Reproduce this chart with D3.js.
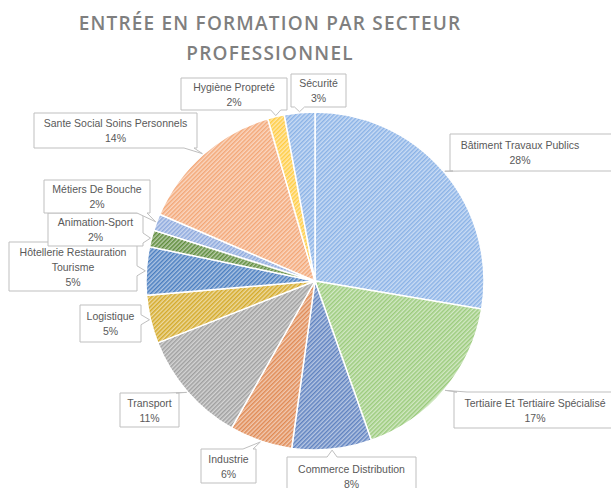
<!DOCTYPE html>
<html>
<head>
<meta charset="utf-8">
<script src="https://cdn.jsdelivr.net/npm/d3@7"></script>
<style>
  body { margin: 0; background: #fff; }
</style>
</head>
<body>
<div class="canvas"></div>
<script>
// data, clockwise from 12 o'clock
const sectors = ['Bâtiment Travaux Publics', 'Tertiaire Et Tertiaire Spécialisé', 'Commerce Distribution',
  'Industrie', 'Transport', 'Logistique', 'Hôtellerie Restauration Tourisme', 'Animation-Sport',
  'Métiers De Bouche', 'Sante Social Soins Personnels', 'Hygiène Propreté', 'Sécurité'];
const shares = [27.6, 16.9, 7.6, 6.0, 10.8, 4.6, 4.6, 1.6, 1.6, 14.0, 1.6, 2.9];
const colors = ['#8ab2e6', '#9bcb7c', '#5f82c0', '#e08a54', '#a0a0a0', '#d4aa2a',
  '#4a7ec0', '#5e8c3c', '#8da9dd', '#f3a777', '#ffcc44', '#8ab2e6'];

// label text lines (how the callouts wrap)
const labelLines = [['Bâtiment Travaux Publics'], ['Tertiaire Et Tertiaire Spécialisé'], ['Commerce Distribution'],
  ['Industrie'], ['Transport'], ['Logistique'], ['Hôtellerie Restauration', 'Tourisme'], ['Animation-Sport'],
  ['Métiers De Bouche'], ['Sante Social Soins Personnels'], ['Hygiène Propreté'], ['Sécurité']];

// callout boxes [x0, y0, x1, y1, text centre x (optional)]
const boxes = [[450, 134, 615, 171, 520], [454, 392, 615, 428, 535], [287, 457, 416, 495],
  [201, 449, 256, 483], [120, 393, 179, 427], [80, 305, 141, 342],
  [9, 242, 137, 291], [48, 213, 143, 246], [44, 180, 150, 213],
  [34, 113, 197, 148], [181, 78, 287, 110], [291, 74, 346, 107]];

const width = 611, height = 488;
const cx = 315, cy = 281, radius = 169;

const svg = d3.select('.canvas')
  .append('svg')
    .attr('width', width)
    .attr('height', height)
    .style('font-family', '"Liberation Sans", Arial, sans-serif');

// fine hatch patterns
const defs = svg.append('defs');
colors.forEach((c, i) => {
  const p = defs.append('pattern')
    .attr('id', 'hatch' + i)
    .attr('width', 3).attr('height', 3)
    .attr('patternUnits', 'userSpaceOnUse')
    .attr('patternTransform', 'rotate(-45)');
  p.append('rect').attr('width', 3).attr('height', 3)
    .attr('fill', d3.interpolateRgb(c, '#fff')(0.55));
  p.append('rect').attr('width', 3).attr('height', 1.5).attr('fill', c);
});

// title
const title = svg.append('text')
  .attr('x', 270)
  .attr('text-anchor', 'middle')
  .attr('fill', '#7f7f7f')
  .style('font-family', '"Open Sans", sans-serif')
  .style('font-weight', 600)
  .style('font-size', '19px')
  .style('letter-spacing', '1.2px');
title.append('tspan').attr('x', 270).attr('y', 30).text('ENTRÉE EN FORMATION PAR SECTEUR');
title.append('tspan').attr('x', 270).attr('y', 60).text('PROFESSIONNEL');

const total = d3.sum(shares);
const data = sectors.map((s, i) => ({name: s, value: shares[i], i}));

const pie = d3.pie().sort(null).value(d => d.value);
const arc = d3.arc().innerRadius(0).outerRadius(radius);
const arcs = pie(data);

const graph = svg.append('g').attr('transform', `translate(${cx}, ${cy})`);

graph.selectAll('path')
  .data(arcs)
  .enter()
  .append('path')
    .attr('d', arc)
    .attr('fill', d => `url(#hatch${d.data.i})`)
    .attr('stroke', '#fff')
    .attr('stroke-width', 1.5);

// callout shape: rectangle with a wedge pointing to the slice
const callout = (b, tx, ty) => {
  const [x0, y0, x1, y1] = b;
  const w = 5;
  const clamp = (v, a, z) => Math.max(a, Math.min(z, v));
  if (ty > y1) {
    const c = clamp(tx, x0 + w + 3, x1 - w - 3);
    return `M${x0},${y0}L${x1},${y0}L${x1},${y1}L${c + w},${y1}L${tx},${ty}L${c - w},${y1}L${x0},${y1}Z`;
  }
  if (ty < y0) {
    const c = clamp(tx, x0 + w + 3, x1 - w - 3);
    return `M${x0},${y0}L${c - w},${y0}L${tx},${ty}L${c + w},${y0}L${x1},${y0}L${x1},${y1}L${x0},${y1}Z`;
  }
  if (tx > x1) {
    const c = clamp(ty, y0 + w + 3, y1 - w - 3);
    return `M${x0},${y0}L${x1},${y0}L${x1},${c - w}L${tx},${ty}L${x1},${c + w}L${x1},${y1}L${x0},${y1}Z`;
  }
  const c = clamp(ty, y0 + w + 3, y1 - w - 3);
  return `M${x0},${y0}L${x1},${y0}L${x1},${y1}L${x0},${y1}L${x0},${c + w}L${tx},${ty}L${x0},${c - w}Z`;
};

const labels = svg.append('g');

arcs.forEach(a => {
  const i = a.data.i;
  const mid = (a.startAngle + a.endAngle) / 2;
  const tx = cx + Math.sin(mid) * (radius + 1);
  const ty = cy - Math.cos(mid) * (radius + 1);
  const b = boxes[i];

  labels.append('path')
    .attr('d', callout(b, tx, ty))
    .attr('fill', '#fff')
    .attr('stroke', '#bfbfbf')
    .attr('stroke-width', 1);

  const lines = labelLines[i].concat([Math.round(a.data.value / total * 100) + '%']);
  const mx = b[4] !== undefined ? b[4] : (b[0] + b[2]) / 2;
  const my = (b[1] + b[3]) / 2;
  const lh = 15;
  const t = labels.append('text')
    .attr('text-anchor', 'middle')
    .attr('fill', '#595959')
    .style('font-size', '10.5px');
  lines.forEach((l, k) => {
    t.append('tspan')
      .attr('x', mx)
      .attr('y', my + (k - (lines.length - 1) / 2) * lh + 4)
      .text(l);
  });
});
</script>
</body>
</html>
